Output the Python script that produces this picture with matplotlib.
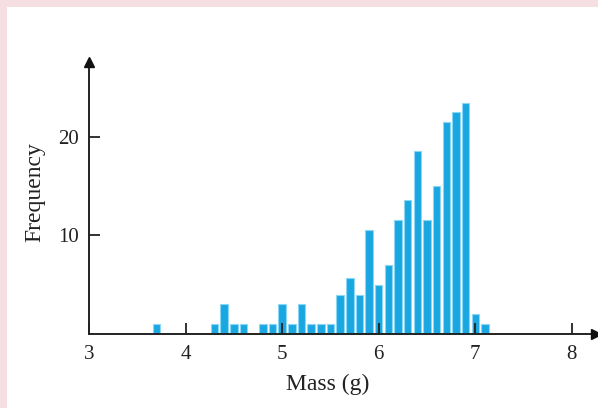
import matplotlib
matplotlib.use("Agg")
import matplotlib.pyplot as plt
from matplotlib.patches import Rectangle

# Data: bin centres (g) and frequencies
mass = [3.7, 4.3, 4.4, 4.5, 4.6, 4.8, 4.9, 5.0, 5.1, 5.2, 5.3, 5.4, 5.5,
        5.6, 5.7, 5.8, 5.9, 6.0, 6.1, 6.2, 6.3, 6.4, 6.5, 6.6, 6.7, 6.8,
        6.9, 7.0, 7.1]
freq = [1, 1, 3, 1, 1, 1, 1, 3, 1, 3, 1, 1, 1,
        4, 5.7, 4, 10.6, 5, 7, 11.6, 13.6, 18.6, 11.6, 15, 21.5, 22.5,
        23.4, 2, 1]
xticks = [3, 4, 5, 6, 7, 8]
yticks = [10, 20]

W, H = 598, 408
fig = plt.figure(figsize=(W / 100, H / 100), dpi=100)
fig.patch.set_facecolor("#f5dfe2")
bg = Rectangle((7 / W, 0), 1, 1 - 7 / H, transform=fig.transFigure,
               facecolor="white", edgecolor="none", zorder=-10)
fig.add_artist(bg)

ax = fig.add_axes([89 / W, 74 / H, (596 - 89) / W, (334 - 62) / H])
ax.set_zorder(5)
ax.set_facecolor("none")
ax.bar(mass, freq, width=0.078, color="#1aa7e1", edgecolor="#8ad6f5",
       linewidth=0.8, zorder=2)

ax.set_xlim(3, 8.25)
ax.set_ylim(0, 27.6)
for s in ["top", "right"]:
    ax.spines[s].set_visible(False)
for s in ["left", "bottom"]:
    ax.spines[s].set_color("#222222")
    ax.spines[s].set_linewidth(1.4)
    ax.spines[s].set_zorder(4)

ax.plot(1, 0, ">", color="#111111", markersize=7, transform=ax.transAxes,
        clip_on=False, zorder=5)
ax.plot(0, 1, "^", color="#111111", markersize=7, transform=ax.transAxes,
        clip_on=False, zorder=5)

ax.set_xticks(xticks)
ax.set_yticks(yticks)
serif = "Liberation Serif"
ax.set_xticklabels([str(t) for t in xticks], fontfamily=serif, fontsize=15)
ax.set_yticklabels([str(t) for t in yticks], fontfamily=serif, fontsize=15)
ax.tick_params(axis="both", direction="in", length=8, width=1.3,
               colors="#222222")
ax.tick_params(axis="x", pad=8)
ax.tick_params(axis="y", pad=7)
ax.set_axisbelow(False)

ax.set_xlabel("Mass (g)", fontfamily=serif, fontsize=17, color="#222222")
ax.set_ylabel("Frequency", fontfamily=serif, fontsize=17, color="#222222")
ax.xaxis.set_label_coords(0.471, -0.145)
ax.yaxis.set_label_coords(-0.087, 0.52)

fig.savefig("out.png", dpi=100, facecolor=fig.get_facecolor())
